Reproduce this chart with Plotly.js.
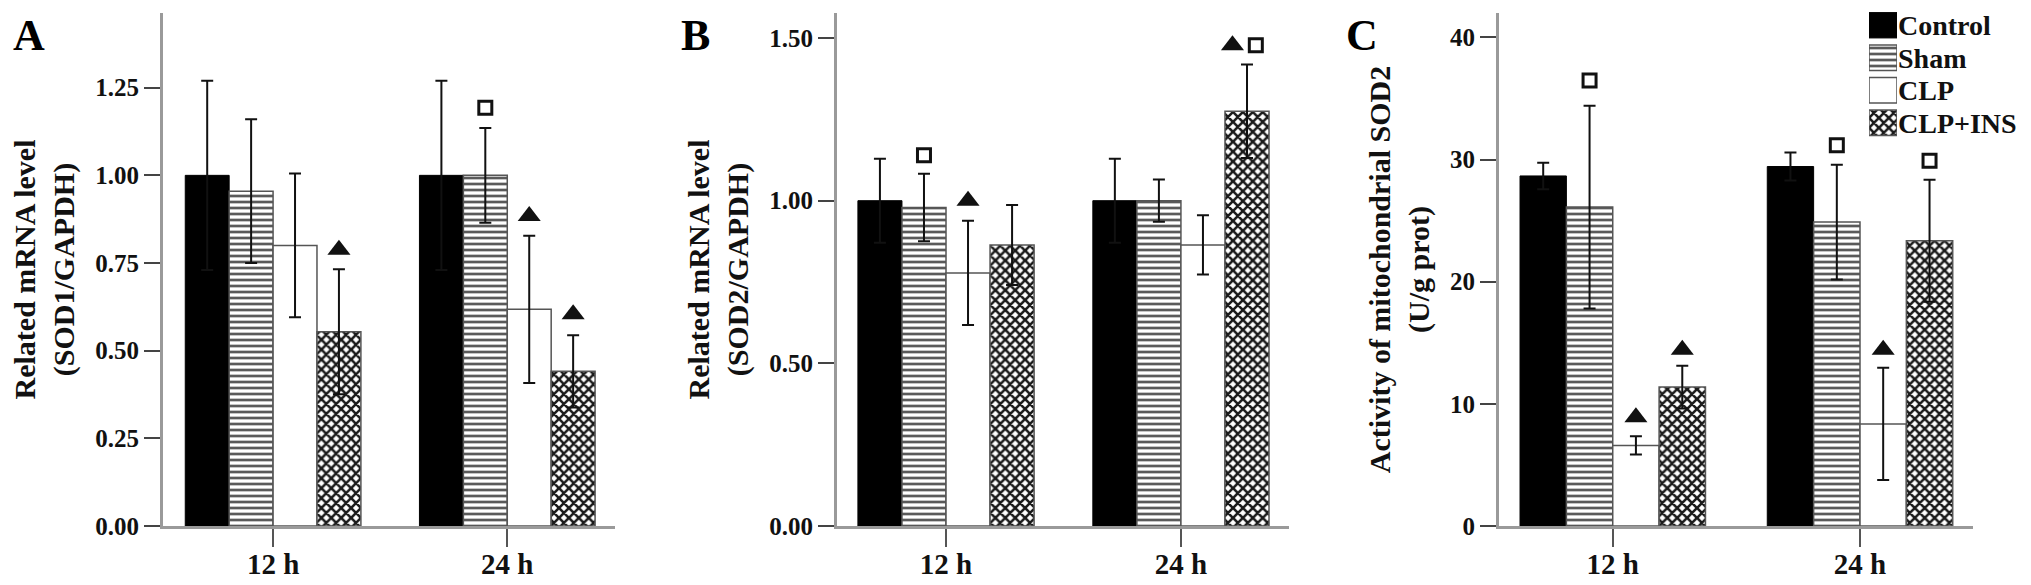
<!DOCTYPE html>
<html><head><meta charset="utf-8">
<script src="https://cdn.plot.ly/plotly-3.0.1.min.js"></script>
<style>html,body{margin:0;padding:0;background:#fff}#chart{width:2031px;height:585px}</style>
</head><body><div id="chart"></div>
<script>
// ---------- data ----------
const categories = ["12 h", "24 h"];
const seriesNames = ["Control", "Sham", "CLP", "CLP+INS"];

// Panel A: SOD1 mRNA
const sod1Control = [1.00, 1.00];
const sod1Sham = [0.955, 1.00];
const sod1Clp = [0.80, 0.618];
const sod1ClpIns = [0.554, 0.441];
const sod1ControlErr = [0.27, 0.27];
const sod1ShamErr = [0.205, 0.135];
const sod1ClpErr = [0.205, 0.21];
const sod1ClpInsErr = [0.178, 0.103];
const sod1Triangle = [[null, null], [null, null], [null, 0.884], [0.788, 0.604]];
const sod1Square = [[null, null], [null, 1.193], [null, null], [null, null]];
const sod1Ticks = [0, 0.25, 0.5, 0.75, 1.0, 1.25];

// Panel B: SOD2 mRNA
const sod2Control = [1.00, 1.00];
const sod2Sham = [0.979, 1.00];
const sod2Clp = [0.778, 0.864];
const sod2ClpIns = [0.864, 1.275];
const sod2ControlErr = [0.129, 0.129];
const sod2ShamErr = [0.104, 0.065];
const sod2ClpErr = [0.16, 0.091];
const sod2ClpInsErr = [0.123, 0.144];
const sod2Triangle = [[null, null], [null, null], [1.0, null], [null, 1.478]];
const sod2Square = [[null, null], [1.14, null], [null, null], [null, 1.478]];
const sod2Ticks = [0, 0.5, 1.0, 1.5];

// Panel C: activity of mitochondrial SOD2
const actControl = [28.66, 29.43];
const actSham = [26.11, 24.88];
const actClp = [6.6, 8.36];
const actClpIns = [11.37, 23.35];
const actControlErr = [1.08, 1.14];
const actShamErr = [8.3, 4.7];
const actClpErr = [0.75, 4.6];
const actClpInsErr = [1.75, 5.0];
const actTriangle = [[null, null], [null, null], [8.91, 14.44], [14.44, null]];
const actSquare = [[null, null], [36.47, 31.18], [null, null], [null, 29.9]];
const actTicks = [0, 10, 20, 30, 40];

// ---------- styles ----------
const W = 2031, H = 585;
const FONT = "Liberation Serif, Times New Roman, serif";
const BARGAP = 0.25;
const outline = {color: "#555", width: 1.5};
const barStyles = [
  {color: "#000000", line: {color: "#000", width: 1}},
  {color: "#ffffff", line: outline, pattern: {shape: "-", fgcolor: "#5a5a5a", bgcolor: "#ffffff", size: 6, solidity: 0.45}},
  {color: "#ffffff", line: outline},
  {color: "#ffffff", line: outline, pattern: {shape: "x", fgcolor: "#1a1a1a", bgcolor: "#ffffff", size: 7, solidity: 0.6}}
];

const panels = [
  {key: "", means: [sod1Control, sod1Sham, sod1Clp, sod1ClpIns],
   errs: [sod1ControlErr, sod1ShamErr, sod1ClpErr, sod1ClpInsErr],
   tri: sod1Triangle, sq: sod1Square, ticks: sod1Ticks, fmt: ".2f",
   yrange: [0, 1.463], xrange: [-0.47, 1.46], xdom: [163, 615],
   title: "Related mRNA level<br>(SOD1/GAPDH)", letter: "A", letterX: 11},
  {key: "2", means: [sod2Control, sod2Sham, sod2Clp, sod2ClpIns],
   errs: [sod2ControlErr, sod2ShamErr, sod2ClpErr, sod2ClpInsErr],
   tri: sod2Triangle, sq: sod2Square, ticks: sod2Ticks, fmt: ".2f",
   yrange: [0, 1.577], xrange: [-0.464, 1.46], xdom: [837, 1289],
   title: "Related mRNA level<br>(SOD2/GAPDH)", letter: "B", letterX: 679},
  {key: "3", means: [actControl, actSham, actClp, actClpIns],
   errs: [actControlErr, actShamErr, actClpErr, actClpInsErr],
   tri: actTriangle, sq: actSquare, ticks: actTicks, fmt: "d",
   yrange: [0, 42], xrange: [-0.46, 1.457], xdom: [1499, 1973],
   title: "Activity of mitochondrial SOD2<br>(U/g prot)", letter: "C", letterX: 1344}
];

const xPos = categories.map((c, i) => i);
const barW = (1 - BARGAP) / seriesNames.length;
function offsetX(i, k) { return i - (1 - BARGAP) / 2 + (k + 0.5) * barW; }

const traces = [];
const layout = {
  width: W, height: H,
  margin: {l: 0, r: 0, t: 0, b: 0},
  paper_bgcolor: "#ffffff", plot_bgcolor: "#ffffff",
  barmode: "group", bargap: BARGAP, bargroupgap: 0,
  showlegend: false,
  font: {family: FONT, color: "#111", weight: "bold"},
  annotations: []
};
const yDom = [1 - 526 / H, 1 - 13 / H];

panels.forEach(p => {
  const xa = "x" + p.key, ya = "y" + p.key;
  seriesNames.forEach((name, k) => {
    traces.push({
      type: "bar", name: name, x: xPos, y: p.means[k], xaxis: xa, yaxis: ya,
      marker: barStyles[k], hoverinfo: "skip",
      error_y: {type: "data", array: p.errs[k], visible: true, color: "#111", thickness: 2, width: 6}
    });
  });
  // significance markers
  const tx = [], ty = [], sx = [], sy = [];
  seriesNames.forEach((name, k) => {
    categories.forEach((c, i) => {
      const t = p.tri[k][i], s = p.sq[k][i];
      const both = t !== null && s !== null;
      if (t !== null) { tx.push(offsetX(i, k) - (both ? 0.33 * barW : 0)); ty.push(t); }
      if (s !== null) { sx.push(offsetX(i, k) + (both ? 0.2 * barW : 0)); sy.push(s); }
    });
  });
  traces.push({type: "scatter", mode: "markers", x: tx, y: ty, xaxis: xa, yaxis: ya, cliponaxis: false,
    marker: {symbol: "triangle-up", size: 20, color: "#111"}, hoverinfo: "skip"});
  traces.push({type: "scatter", mode: "markers", x: sx, y: sy, xaxis: xa, yaxis: ya, cliponaxis: false,
    marker: {symbol: "square-open", size: 13, color: "#111", line: {width: 3, color: "#111"}}, hoverinfo: "skip"});

  layout["xaxis" + p.key] = {
    domain: [p.xdom[0] / W, p.xdom[1] / W], anchor: ya, range: p.xrange,
    tickvals: xPos, ticktext: categories, ticks: "outside", ticklen: 18, tickwidth: 2, tickcolor: "#555",
    ticklabelstandoff: -8,
    showline: true, linecolor: "#9a9a9a", linewidth: 3, showgrid: false, zeroline: false,
    tickfont: {family: FONT, size: 29, color: "#111", weight: "bold"}, automargin: false, fixedrange: true
  };
  layout["yaxis" + p.key] = {
    domain: yDom, anchor: xa, range: p.yrange,
    tickvals: p.ticks, tickformat: p.fmt, ticks: "outside", ticklen: 16, tickwidth: 2, tickcolor: "#444",
    showline: true, linecolor: "#9a9a9a", linewidth: 3, showgrid: false, zeroline: false,
    tickfont: {family: FONT, size: 25, color: "#111", weight: "bold"}, automargin: false, fixedrange: true,
    title: {text: p.title, standoff: 12, font: {family: FONT, size: 30, color: "#111", weight: "bold"}}
  };
  layout.annotations.push({
    text: p.letter, xref: "paper", yref: "paper", x: p.letterX / W, y: 1 - 35 / H,
    xanchor: "left", yanchor: "middle", showarrow: false,
    font: {family: FONT, size: 44, color: "#000", weight: "bold"}
  });
});

// legend drawn as a small bar subplot of the series names
seriesNames.forEach((name, k) => {
  traces.push({
    type: "bar", orientation: "h", x: [1], y: [name], name: name,
    xaxis: "x4", yaxis: "y4", width: 0.78, offsetgroup: "legend", hoverinfo: "skip",
    marker: barStyles[k]
  });
});
layout.xaxis4 = {domain: [1869 / W, 1897 / W], anchor: "y4", range: [0, 1], visible: false, fixedrange: true};
layout.yaxis4 = {domain: [1 - 139 / H, 1 - 9 / H], anchor: "x4", side: "right", type: "category",
  categoryorder: "array", categoryarray: seriesNames, range: [3.5, -0.5],
  tickmode: "array", tickvals: seriesNames, ticktext: seriesNames,
  showline: false, showgrid: false, zeroline: false, ticks: "", automargin: false, fixedrange: true,
  tickfont: {family: FONT, size: 28, color: "#111", weight: "bold"}};

Plotly.newPlot("chart", traces, layout, {displayModeBar: false, staticPlot: true});
</script>
</body></html>
